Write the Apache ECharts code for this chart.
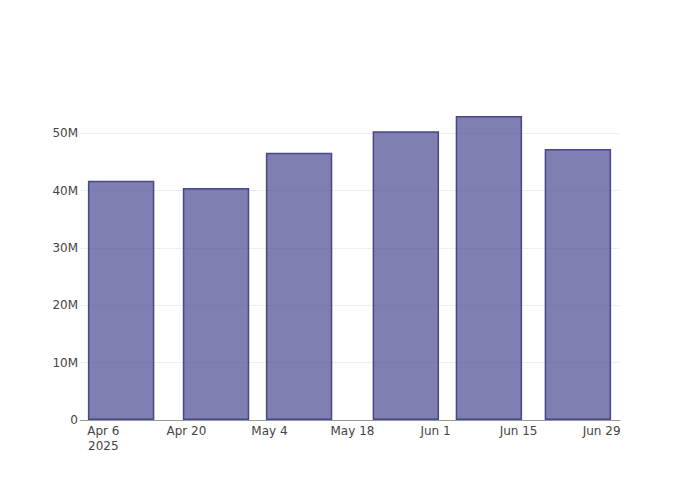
<!DOCTYPE html>
<html>
<head>
<meta charset="utf-8">
<script src="https://cdn.jsdelivr.net/npm/echarts@6/dist/echarts.min.js"></script>
<style>html,body{margin:0;padding:0;background:#fff}#c{width:700px;height:500px}</style>
</head>
<body>
<div id="c"></div>
<script>
// Data
const dates = ['2025-04-09', '2025-04-25', '2025-05-09', '2025-05-27', '2025-06-10', '2025-06-25'];
const values = [41.7e6, 40.45e6, 46.6e6, 50.35e6, 53.0e6, 47.25e6];
const tickDates = ['2025-04-06', '2025-04-20', '2025-05-04', '2025-05-18', '2025-06-01', '2025-06-15', '2025-06-29'];
const yTickStep = 10e6;

const DAY = 86400000;
function ts(s) { const p = s.split('-').map(Number); return Date.UTC(p[0], p[1] - 1, p[2]); }
const MONTHS = ['Jan','Feb','Mar','Apr','May','Jun','Jul','Aug','Sep','Oct','Nov','Dec'];

const xMin = ts('2025-04-06') - 3.93 * DAY;
const xMax = ts('2025-04-06') + 87.1 * DAY;
const gridLeft = 80, gridRight = 80;
const gridW = 700 - gridLeft - gridRight;
const barW = 0.8 * 14 * DAY * gridW / (xMax - xMin);

const chart = echarts.init(document.getElementById('c'), null, { renderer: 'svg' });
const font = '"DejaVu Sans", sans-serif';
chart.setOption({
  animation: false,
  grid: { left: gridLeft, right: gridRight, top: 100, bottom: 80 },
  xAxis: {
    type: 'value',
    min: xMin,
    max: xMax,
    axisLine: { show: true, onZero: false, lineStyle: { color: '#999', width: 1 } },
    axisTick: { show: false },
    splitLine: { show: false },
    axisLabel: {
      customValues: tickDates.map(ts),
      color: '#444',
      fontFamily: font,
      fontSize: 12,
      margin: 3,
      align: 'center',
      verticalAlign: 'top',
      formatter: function (v) {
        const d = new Date(v);
        let s = MONTHS[d.getUTCMonth()] + ' ' + d.getUTCDate();
        if (v === ts(tickDates[0])) s += '\n{y|' + d.getUTCFullYear() + '}';
        return s;
      },
      rich: { y: { color: '#444', fontFamily: font, fontSize: 12, lineHeight: 15 } },
      lineHeight: 15
    }
  },
  yAxis: {
    type: 'value',
    min: 0,
    max: 55.8e6,
    interval: yTickStep,
    axisLine: { show: false },
    axisTick: { show: false },
    splitLine: { show: true, showMinLine: false, showMaxLine: false, lineStyle: { color: '#eee', width: 1 } },
    axisLabel: {
      showMaxLabel: false,
      color: '#444',
      fontFamily: font,
      fontSize: 12,
      margin: 2,
      formatter: function (v) { return v === 0 ? '0' : (v / 1e6) + 'M'; }
    }
  },
  series: [{
    type: 'bar',
    data: dates.map((d, i) => [ts(d), values[i]]),
    barWidth: barW,
    itemStyle: {
      color: 'rgba(72, 72, 146, 0.7)',
      borderColor: 'rgba(65, 65, 130, 0.95)',
      borderWidth: 1.5
    }
  }]
});
</script>
</body>
</html>
